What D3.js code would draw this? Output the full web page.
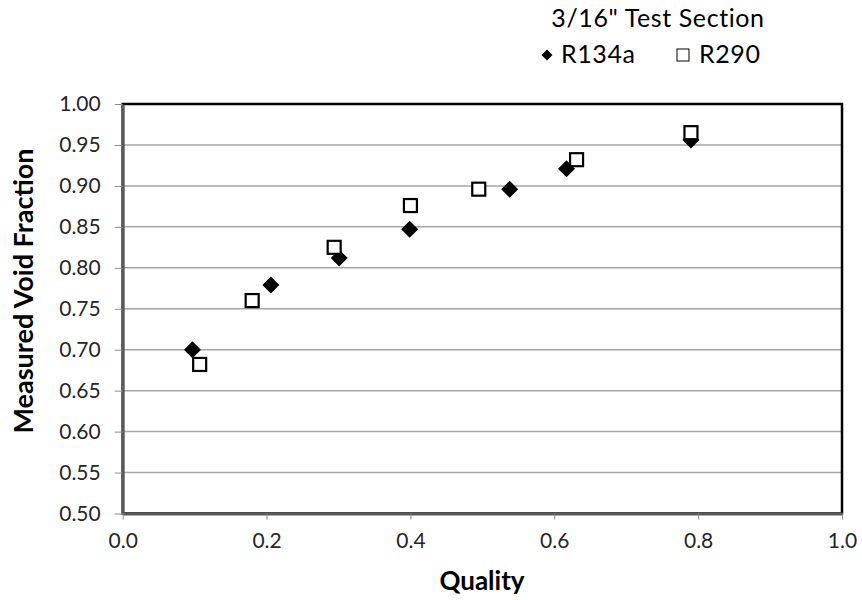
<!DOCTYPE html>
<html>
<head>
<meta charset="utf-8">
<script src="https://cdn.jsdelivr.net/npm/d3@7"></script>
<style>
	body { margin: 0; background: #fff; }
	svg { font-family: Lato, 'Open Sans', sans-serif; }
</style>
</head>
<body>
<div id="chart"></div>
<script>
let width = 862
let height = 600

let margins = {
	top : 104,
	right : 20,
	bottom : 86.5,
	left : 122.7,
}

// R134a (diamonds)
let r134aQuality = [0.097, 0.206, 0.301, 0.399, 0.538, 0.617, 0.790]
let r134aVoid = [0.700, 0.779, 0.812, 0.847, 0.896, 0.921, 0.956]

// R290 (squares)
let r290Quality = [0.107, 0.180, 0.294, 0.400, 0.495, 0.631, 0.790]
let r290Void = [0.682, 0.760, 0.825, 0.876, 0.896, 0.932, 0.965]

let xTicks = [0, 0.2, 0.4, 0.6, 0.8, 1.0]
let yTicks = [0.50, 0.55, 0.60, 0.65, 0.70, 0.75, 0.80, 0.85, 0.90, 0.95, 1.00]

let r134a = r134aQuality.map((q, i) => ({ q : q, v : r134aVoid[i] }))
let r290 = r290Quality.map((q, i) => ({ q : q, v : r290Void[i] }))

let innerW = width - margins.left - margins.right
let innerH = height - margins.top - margins.bottom

let xScale = d3.scaleLinear()
	.domain([0, 1])
	.range([0, innerW])

let yScale = d3.scaleLinear()
	.domain([0.5, 1])
	.range([innerH, 0])

let svg = d3.select('#chart').append('svg')
	.attr('width', width)
	.attr('height', height)

let inner = svg.append('g')
	.attr('transform', `translate(${margins.left},${margins.top})`)

// horizontal gridlines
inner.append('g')
	.selectAll('line')
	.data(yTicks.slice(1, -1))
	.enter()
	.append('line')
	.attr('x1', 0)
	.attr('x2', innerW)
	.attr('y1', d => yScale(d))
	.attr('y2', d => yScale(d))
	.attr('stroke', '#a6a6a6')
	.attr('stroke-width', 1.5)

// plot frame (top, right)
inner.append('rect')
	.attr('x', 0)
	.attr('y', 0)
	.attr('width', innerW)
	.attr('height', innerH)
	.attr('fill', 'none')
	.attr('stroke', '#000')
	.attr('stroke-width', 2.5)

let yAxis = d3.axisLeft(yScale)
	.tickValues(yTicks)
	.tickFormat(d3.format('.2f'))
	.tickSizeInner(8)
	.tickSizeOuter(0)
	.tickPadding(14)

let xAxis = d3.axisBottom(xScale)
	.tickValues(xTicks)
	.tickFormat(d3.format('.1f'))
	.tickSizeInner(6)
	.tickSizeOuter(0)
	.tickPadding(14)

let yG = inner.append('g').call(yAxis)
let xG = inner.append('g')
	.attr('transform', `translate(0,${innerH})`)
	.call(xAxis)

;[yG, xG].forEach(g => {
	g.select('.domain')
		.attr('stroke', '#595959')
		.attr('stroke-width', 3)
	g.selectAll('.tick line')
		.attr('stroke', '#8c8c8c')
		.attr('stroke-width', 1)
	g.selectAll('.tick text')
		.attr('font-family', 'Lato, sans-serif')
		.attr('font-size', 21)
		.attr('fill', '#262626')
})

// marks
let half = 8.5
let diamondPath = `M0,${-half}L${half},0L0,${half}L${-half},0Z`

inner.append('g')
	.selectAll('path')
	.data(r134a)
	.enter()
	.append('path')
	.attr('d', diamondPath)
	.attr('transform', d => `translate(${xScale(d.q)},${yScale(d.v)})`)
	.attr('fill', '#000')

let sq = 13
inner.append('g')
	.selectAll('rect')
	.data(r290)
	.enter()
	.append('rect')
	.attr('x', d => xScale(d.q) - sq / 2)
	.attr('y', d => yScale(d.v) - sq / 2)
	.attr('width', sq)
	.attr('height', sq)
	.attr('fill', '#fff')
	.attr('stroke', '#000')
	.attr('stroke-width', 2.2)

// axis titles
svg.append('text')
	.text('Quality')
	.attr('text-anchor', 'middle')
	.attr('x', 482)
	.attr('y', 590)
	.attr('font-size', 26)
	.attr('font-weight', 'bold')
	.attr('fill', '#000')

svg.append('text')
	.text('Measured Void Fraction')
	.attr('text-anchor', 'middle')
	.attr('transform', 'translate(33,291) rotate(-90)')
	.attr('font-size', 27)
	.attr('font-weight', 'bold')
	.attr('fill', '#000')

// legend
let legend = svg.append('g')
	.attr('font-size', 25)
	.attr('letter-spacing', 0.6)
	.attr('fill', '#000')

legend.append('text')
	.text('3/16" Test Section')
	.attr('text-anchor', 'middle')
	.attr('x', 658)
	.attr('y', 27)

let lh = 5.5
legend.append('path')
	.attr('d', `M0,${-lh}L${lh},0L0,${lh}L${-lh},0Z`)
	.attr('transform', 'translate(547,55)')
	.attr('fill', '#000')

legend.append('text')
	.text('R134a')
	.attr('x', 561)
	.attr('y', 63)

legend.append('rect')
	.attr('x', 677)
	.attr('y', 49)
	.attr('width', 12)
	.attr('height', 12)
	.attr('fill', '#fff')
	.attr('stroke', '#000')
	.attr('stroke-width', 1)

legend.append('text')
	.text('R290')
	.attr('x', 699)
	.attr('y', 63)
</script>
</body>
</html>
